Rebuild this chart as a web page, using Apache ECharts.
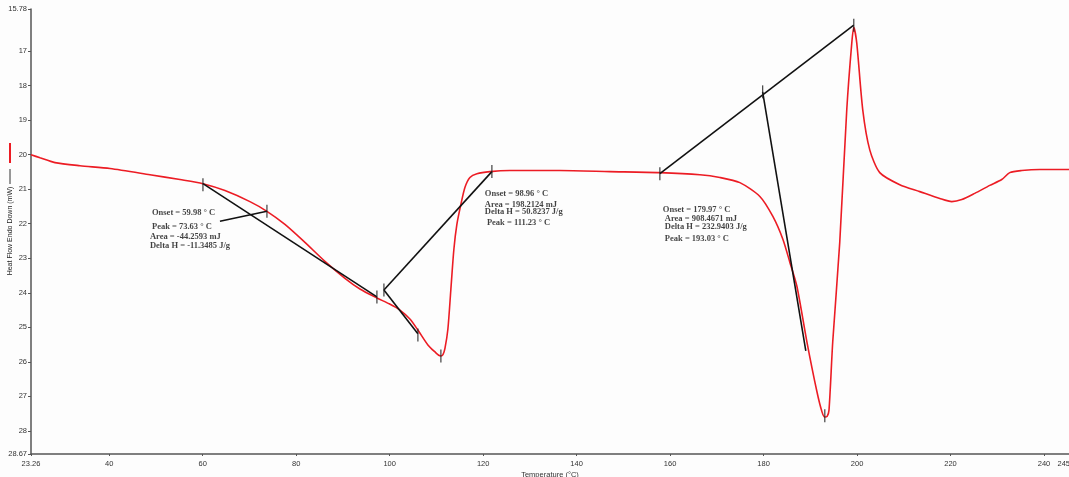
<!DOCTYPE html>
<html>
<head>
<meta charset="utf-8">
<script src="https://cdn.jsdelivr.net/npm/echarts@6/dist/echarts.min.js"></script>
<style>
html, body { margin: 0; padding: 0; background: #fdfdfd; }
#main { width: 1069px; height: 477px; }
</style>
</head>
<body>
<div id="main"></div>
<script>
// DSC trace: temperature (°C), heat flow (mW)
var temps = [23.26, 25.19, 28.39, 33.74, 40.16, 48.71, 55.13, 60.05, 64.76, 70.1, 73.74, 77.59, 81.87, 86.15, 90.43, 93.64, 97.27, 99.9, 102.2, 104.33, 106.04, 108.18, 109.89, 110.5, 110.96, 111.4, 111.82, 112.46, 113.1, 113.74, 114.38, 115.24, 116.1, 117.17, 118.67, 121.45, 125.72, 136.42, 147.11, 157.81, 166.37, 170.65, 174.93, 179.21, 181.99, 184.13, 185.63, 187.13, 189.27, 191.41, 192.5, 193.1, 193.6, 194.0, 194.8, 196.3, 197.8, 198.87, 199.3, 199.94, 201.22, 202.72, 204.86, 209.14, 213.42, 217.7, 220.27, 222.41, 225.19, 228.4, 230.96, 232.67, 235.24, 239.09, 245.35];
var heatFlow = [20.0, 20.09, 20.23, 20.32, 20.40, 20.58, 20.72, 20.84, 21.04, 21.36, 21.64, 22.02, 22.54, 23.09, 23.58, 23.89, 24.15, 24.32, 24.50, 24.76, 25.08, 25.51, 25.74, 25.81, 25.83, 25.79, 25.62, 25.05, 23.89, 22.74, 22.02, 21.44, 20.95, 20.66, 20.55, 20.49, 20.46, 20.46, 20.49, 20.52, 20.58, 20.66, 20.81, 21.21, 21.79, 22.45, 23.12, 23.81, 25.42, 26.86, 27.45, 27.6, 27.58, 27.4, 25.42, 22.54, 18.70, 16.77, 16.31, 16.77, 18.70, 19.86, 20.52, 20.87, 21.07, 21.27, 21.36, 21.30, 21.12, 20.89, 20.72, 20.52, 20.46, 20.43, 20.43];

// tick labels
var xTicks = [23.26, 40, 60, 80, 100, 120, 140, 160, 180, 200, 220, 240, 245.35];
var yTicks = [15.78, 17, 18, 19, 20, 21, 22, 23, 24, 25, 26, 27, 28, 28.67];

// analysis construction lines [[t1, v1], [t2, v2]]
var constructLines = [
  [[60.05, 20.84], [97.27, 24.12]],
  [[63.69, 21.93], [73.74, 21.64]],
  [[98.77, 23.92], [121.87, 20.49]],
  [[98.77, 23.92], [106.04, 25.19]],
  [[157.81, 20.55], [199.3, 16.25]],
  [[179.8, 18.18], [189.04, 25.68]]
];
var markerPts = [[60.05, 20.87], [73.74, 21.64], [97.27, 24.12], [98.77, 23.92], [106.04, 25.22], [110.96, 25.83], [121.87, 20.49], [157.81, 20.55], [179.8, 18.18], [193.1, 27.56], [199.3, 16.25]];

// result texts [t, v, text]
var notes = [
  [49.14, 21.67, 'Onset = 59.98 ° C'],
  [49.14, 22.08, 'Peak = 73.63 ° C'],
  [48.71, 22.39, 'Area = -44.2593 mJ'],
  [48.71, 22.65, 'Delta H = -11.3485 J/g'],
  [120.37, 21.12, 'Onset = 98.96 ° C'],
  [120.37, 21.44, 'Area = 198.2124 mJ'],
  [120.37, 21.64, 'Delta H = 50.8237 J/g'],
  [120.8, 21.96, 'Peak = 111.23 ° C'],
  [158.45, 21.59, 'Onset = 179.97 ° C'],
  [158.87, 21.85, 'Area = 908.4671 mJ'],
  [158.87, 22.08, 'Delta H = 232.9403 J/g'],
  [158.87, 22.45, 'Peak = 193.03 ° C']
];

var curve = temps.map(function (t, i) { return [t, heatFlow[i]]; });

var fmt = function (v) {
  return (Math.round(v * 100) / 100).toString();
};

var series = [{
  name: 'Heat Flow',
  type: 'line',
  data: curve,
  smooth: 0.25,
  showSymbol: false,
  lineStyle: { color: '#ec1c24', width: 1.6 },
  z: 3
}];
constructLines.forEach(function (seg) {
  series.push({
    type: 'line',
    data: seg,
    showSymbol: false,
    lineStyle: { color: '#111', width: 1.6 },
    z: 4
  });
});
series.push({
  type: 'scatter',
  data: markerPts,
  symbol: 'rect',
  symbolSize: [1.3, 13],
  itemStyle: { color: '#222' },
  z: 5
});
series.push({
  type: 'scatter',
  data: notes,
  symbolSize: 0,
  label: {
    show: true,
    position: 'right',
    distance: 0,
    formatter: function (p) { return p.data[2]; },
    fontFamily: 'Liberation Serif',
    fontWeight: 'bold',
    fontSize: 8.5,
    color: '#111'
  },
  z: 6
});

var myChart = echarts.init(document.getElementById('main'));
var option = {
  backgroundColor: '#fdfdfd',
  animation: false,
  grid: { left: 31, right: 0, top: 9, bottom: 23, outerBoundsMode: 'none' },
  xAxis: {
    type: 'value',
    min: 23.26,
    max: 245.35,
    name: 'Temperature (°C)',
    nameLocation: 'middle',
    nameGap: 17,
    nameMoveOverlap: false,
    nameTextStyle: { fontFamily: 'Liberation Sans', fontSize: 7.5, color: '#333' },
    axisLine: { onZero: false, lineStyle: { color: '#555', width: 1.5 } },
    axisTick: { show: true, length: 2, inside: false, customValues: xTicks, lineStyle: { color: '#555' } },
    axisLabel: { customValues: xTicks, formatter: fmt, fontFamily: 'Liberation Sans', fontSize: 7.5, color: '#333', margin: 6 },
    splitLine: { show: false }
  },
  yAxis: {
    type: 'value',
    inverse: true,
    min: 15.78,
    max: 28.67,
    axisLine: { show: true, lineStyle: { color: '#555', width: 1.5 } },
    axisTick: { show: true, length: 3, customValues: yTicks, lineStyle: { color: '#555' } },
    axisLabel: { customValues: yTicks, formatter: fmt, fontFamily: 'Liberation Sans', fontSize: 7.5, color: '#333', margin: 4 },
    splitLine: { show: false }
  },
  graphic: [
    { type: 'line', shape: { x1: 10, y1: 143, x2: 10, y2: 163 }, style: { stroke: '#ec1c24', lineWidth: 2 } },
    { type: 'line', shape: { x1: 10, y1: 169, x2: 10, y2: 184 }, style: { stroke: '#333', lineWidth: 1 } },
    {
      type: 'text', x: 10, y: 231, rotation: Math.PI / 2,
      style: { text: 'Heat Flow Endo Down (mW)', fontFamily: 'Liberation Sans', fontSize: 7, fill: '#222', align: 'center', verticalAlign: 'middle' }
    }
  ],
  series: series
};
myChart.setOption(option);
</script>
</body>
</html>
